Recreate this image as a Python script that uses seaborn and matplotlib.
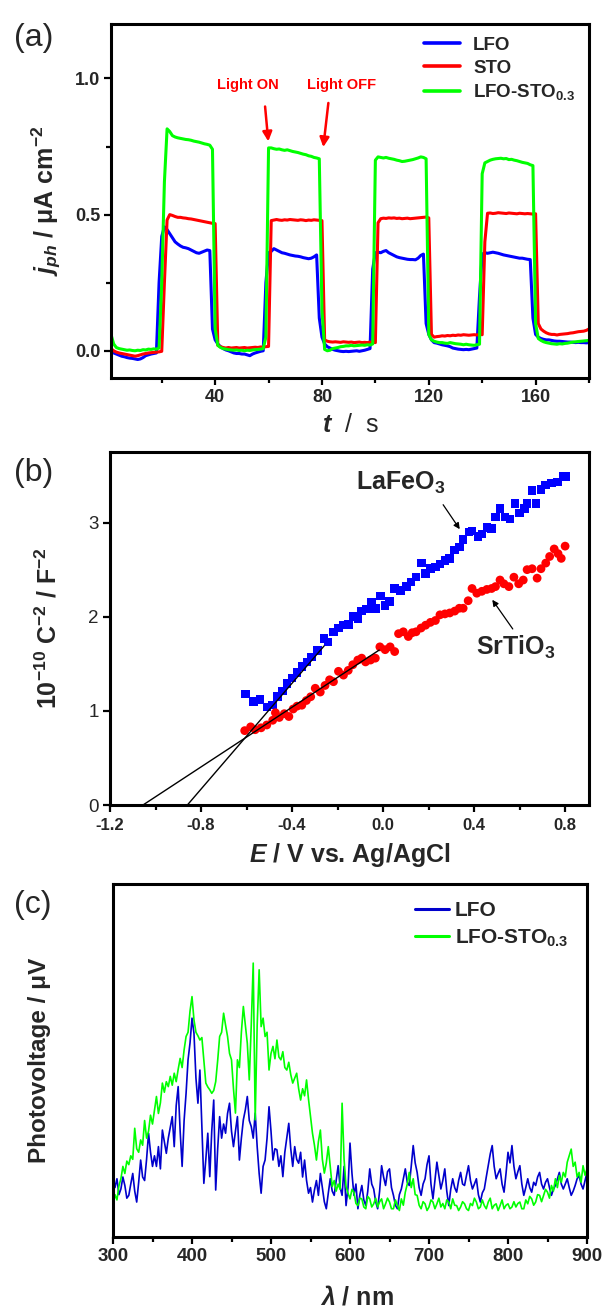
import numpy as np
import pandas as pd
import matplotlib
matplotlib.use("Agg")
import matplotlib.pyplot as plt
import seaborn as sns
from matplotlib.ticker import MultipleLocator, NullLocator

# ---------------- data: panel (a) transient photocurrent ----------------
time_s = np.arange(1, 181)
j_lfo = [
    0.000, -0.008, -0.012, -0.016, -0.020, -0.022, -0.025, -0.027, -0.028, -0.030,
    -0.032, -0.030, -0.025, -0.018, -0.015, -0.012, -0.010, -0.008, 0.250, 0.420,
    0.455, 0.445, 0.430, 0.415, 0.400, 0.392, 0.385, 0.380, 0.378, 0.375,
    0.370, 0.365, 0.360, 0.358, 0.362, 0.366, 0.370, 0.368, 0.080, 0.040,
    0.025, 0.015, 0.008, 0.003, 0.000, -0.004, -0.008, -0.010, -0.010, -0.012,
    -0.012, -0.015, -0.018, -0.012, -0.008, -0.005, -0.002, 0.000, 0.250, 0.360,
    0.365, 0.375, 0.370, 0.365, 0.360, 0.358, 0.355, 0.352, 0.350, 0.348,
    0.347, 0.345, 0.342, 0.340, 0.338, 0.340, 0.345, 0.352, 0.120, 0.050,
    0.025, 0.015, 0.010, 0.005, 0.002, 0.000, -0.002, -0.003, -0.002, -0.003,
    -0.002, -0.001, 0.000, -0.002, 0.000, 0.002, 0.005, 0.008, 0.300, 0.360,
    0.362, 0.360, 0.365, 0.368, 0.360, 0.355, 0.350, 0.345, 0.342, 0.340,
    0.338, 0.336, 0.335, 0.335, 0.334, 0.340, 0.350, 0.355, 0.100, 0.060,
    0.040, 0.030, 0.028, 0.025, 0.022, 0.020, 0.018, 0.015, 0.010, 0.008,
    0.006, 0.005, 0.004, 0.005, 0.004, 0.006, 0.008, 0.010, 0.200, 0.355,
    0.360, 0.358, 0.360, 0.362, 0.360, 0.358, 0.355, 0.352, 0.350, 0.348,
    0.346, 0.344, 0.342, 0.340, 0.340, 0.338, 0.336, 0.335, 0.120, 0.060,
    0.050, 0.045, 0.042, 0.040, 0.040, 0.038, 0.036, 0.035, 0.035, 0.034,
    0.033, 0.032, 0.032, 0.031, 0.030, 0.031, 0.030, 0.030, 0.029, 0.030,
]
j_sto = [
    0.008, 0.000, -0.005, -0.008, -0.010, -0.012, -0.014, -0.016, -0.018, -0.020,
    -0.018, -0.015, -0.012, -0.010, -0.008, -0.007, -0.006, -0.005, -0.004, -0.002,
    0.250, 0.480, 0.500, 0.497, 0.493, 0.490, 0.490, 0.488, 0.487, 0.485,
    0.484, 0.482, 0.480, 0.478, 0.476, 0.474, 0.472, 0.470, 0.468, 0.467,
    0.020, 0.015, 0.012, 0.010, 0.012, 0.010, 0.011, 0.012, 0.010, 0.011,
    0.012, 0.010, 0.011, 0.012, 0.013, 0.012, 0.014, 0.013, 0.015, 0.016,
    0.478, 0.480, 0.482, 0.480, 0.479, 0.481, 0.480, 0.482, 0.481, 0.480,
    0.479, 0.481, 0.480, 0.478, 0.480, 0.479, 0.481, 0.480, 0.479, 0.478,
    0.040, 0.035, 0.033, 0.032, 0.033, 0.032, 0.031, 0.033, 0.032, 0.031,
    0.032, 0.030, 0.031, 0.032, 0.030, 0.031, 0.030, 0.032, 0.031, 0.030,
    0.470, 0.485, 0.487, 0.486, 0.488, 0.487, 0.488, 0.486, 0.487, 0.485,
    0.486, 0.487, 0.485, 0.486, 0.487, 0.488, 0.489, 0.490, 0.491, 0.488,
    0.060, 0.050, 0.052, 0.053, 0.055, 0.054, 0.056, 0.055, 0.057, 0.056,
    0.058, 0.057, 0.059, 0.058, 0.057, 0.058, 0.059, 0.058, 0.060, 0.059,
    0.400, 0.505, 0.506, 0.504, 0.505, 0.507, 0.506, 0.505, 0.504, 0.506,
    0.505, 0.504, 0.503, 0.505, 0.504, 0.503, 0.504, 0.503, 0.502, 0.503,
    0.100, 0.080, 0.072, 0.066, 0.062, 0.060, 0.060, 0.058, 0.060, 0.061,
    0.062, 0.063, 0.065, 0.066, 0.068, 0.070, 0.071, 0.072, 0.075, 0.080,
]
j_lfo_sto = [
    0.060, 0.025, 0.012, 0.008, 0.006, 0.004, 0.002, 0.003, 0.001, 0.000,
    0.002, 0.001, 0.004, 0.003, 0.006, 0.005, 0.007, 0.006, 0.010, 0.250,
    0.620, 0.815, 0.805, 0.790, 0.785, 0.782, 0.780, 0.778, 0.776, 0.775,
    0.773, 0.770, 0.768, 0.766, 0.763, 0.760, 0.758, 0.755, 0.740, 0.080,
    0.020, 0.012, 0.008, 0.006, 0.004, 0.003, 0.002, 0.003, 0.001, 0.002,
    0.000, 0.002, 0.001, 0.003, 0.004, 0.005, 0.006, 0.008, 0.050, 0.745,
    0.745, 0.742, 0.740, 0.741, 0.738, 0.736, 0.738, 0.735, 0.732, 0.730,
    0.728, 0.725, 0.722, 0.720, 0.716, 0.714, 0.710, 0.708, 0.705, 0.150,
    0.005, 0.000, 0.002, 0.008, 0.010, 0.012, 0.015, 0.016, 0.018, 0.018,
    0.020, 0.018, 0.019, 0.020, 0.021, 0.020, 0.022, 0.021, 0.025, 0.700,
    0.712, 0.710, 0.708, 0.710, 0.707, 0.705, 0.703, 0.700, 0.698, 0.695,
    0.696, 0.698, 0.700, 0.702, 0.705, 0.708, 0.712, 0.710, 0.705, 0.060,
    0.040, 0.035, 0.032, 0.030, 0.030, 0.028, 0.027, 0.030, 0.028, 0.026,
    0.025, 0.024, 0.022, 0.024, 0.022, 0.021, 0.020, 0.022, 0.024, 0.650,
    0.690, 0.695, 0.700, 0.703, 0.705, 0.706, 0.707, 0.705, 0.706, 0.702,
    0.703, 0.700, 0.698, 0.695, 0.692, 0.690, 0.688, 0.683, 0.680, 0.100,
    0.045, 0.038, 0.033, 0.030, 0.028, 0.026, 0.025, 0.024, 0.026, 0.025,
    0.027, 0.028, 0.030, 0.032, 0.033, 0.034, 0.035, 0.036, 0.037, 0.038,
]
labels_a = ["LFO", "STO", "LFO-STO$_{0.3}$"]
colors_a = ["#0000FF", "#FF0000", "#00FF00"]

# ---------------- data: panel (b) Mott-Schottky ----------------
lfo_E = [-0.604, -0.570, -0.541, -0.511, -0.485, -0.463, -0.443, -0.422, -0.400, -0.378,
         -0.357, -0.335, -0.315, -0.289, -0.259, -0.242, -0.218, -0.196, -0.174, -0.153,
         -0.133, -0.111, -0.094, -0.073, -0.051, -0.034, -0.012, 0.009, 0.029, 0.051,
         0.077, 0.102, 0.123, 0.145, 0.170, 0.187, 0.208, 0.230, 0.250, 0.272,
         0.293, 0.315, 0.335, 0.352, 0.378, 0.391, 0.417, 0.434, 0.456, 0.477,
         0.494, 0.514, 0.536, 0.558, 0.579, 0.599, 0.621, 0.633, 0.655, 0.672,
         0.694, 0.715, 0.740, 0.766, 0.791, 0.803]
lfo_C = [1.18, 1.10, 1.12, 1.04, 1.06, 1.15, 1.21, 1.29, 1.35, 1.41,
         1.47, 1.52, 1.57, 1.64, 1.77, 1.73, 1.84, 1.88, 1.91, 1.92,
         2.00, 1.98, 2.06, 2.08, 2.15, 2.09, 2.22, 2.12, 2.16, 2.30,
         2.28, 2.32, 2.37, 2.42, 2.57, 2.46, 2.51, 2.53, 2.56, 2.60,
         2.62, 2.71, 2.74, 2.82, 2.90, 2.91, 2.85, 2.88, 2.95, 2.94,
         3.06, 3.15, 3.06, 3.04, 3.20, 3.10, 3.15, 3.20, 3.34, 3.20,
         3.35, 3.40, 3.42, 3.43, 3.49, 3.49]
sto_E = [-0.608, -0.582, -0.562, -0.536, -0.511, -0.485, -0.473, -0.456, -0.434, -0.414,
         -0.395, -0.378, -0.357, -0.337, -0.318, -0.298, -0.276, -0.255, -0.235, -0.218,
         -0.196, -0.174, -0.153, -0.133, -0.111, -0.094, -0.077, -0.055, -0.034, -0.014,
         0.009, 0.031, 0.051, 0.068, 0.089, 0.111, 0.128, 0.145, 0.167, 0.187,
         0.208, 0.230, 0.250, 0.272, 0.293, 0.315, 0.335, 0.352, 0.374, 0.391,
         0.412, 0.434, 0.456, 0.477, 0.494, 0.514, 0.531, 0.553, 0.575, 0.596,
         0.616, 0.633, 0.655, 0.677, 0.694, 0.715, 0.732, 0.752, 0.769, 0.783,
         0.800]
sto_C = [0.79, 0.83, 0.80, 0.82, 0.85, 0.90, 0.98, 0.93, 0.97, 0.94,
         1.02, 1.05, 1.06, 1.11, 1.15, 1.24, 1.20, 1.27, 1.33, 1.31,
         1.42, 1.38, 1.43, 1.49, 1.54, 1.56, 1.52, 1.54, 1.56, 1.68,
         1.65, 1.68, 1.63, 1.82, 1.84, 1.79, 1.83, 1.84, 1.88, 1.91,
         1.94, 1.96, 2.02, 2.03, 2.04, 2.06, 2.09, 2.09, 2.17, 2.30,
         2.25, 2.27, 2.29, 2.30, 2.32, 2.39, 2.35, 2.32, 2.42, 2.35,
         2.39, 2.50, 2.51, 2.41, 2.51, 2.57, 2.64, 2.72, 2.67, 2.62,
         2.75]
fit_lfo_E = [-0.860, -0.259]
fit_lfo_C = [0.0, 1.69]
fit_sto_E = [-1.055, -0.017]
fit_sto_C = [0.0, 1.646]

# ---------------- data: panel (c) surface photovoltage (arb. units) ----------------
wavelength = np.arange(300, 900.1, 2.5)
spv_lfo = [
    17.4, 14.0, 16.5, 12.0, 13.6, 17.0, 14.6, 11.0, 11.8, 15.0,
    18.0, 13.0, 9.9, 15.5, 21.8, 17.0, 16.0, 22.0, 29.4, 24.0,
    20.0, 23.0, 20.0, 25.6, 19.3, 30.3, 27.0, 23.7, 28.0, 31.0,
    34.1, 25.6, 37.2, 42.6, 30.0, 20.0, 33.0, 40.7, 50.2, 55.0,
    62.0, 57.7, 45.0, 37.9, 47.3, 31.3, 15.2, 22.0, 29.4, 17.1,
    30.0, 38.8, 13.3, 25.0, 34.1, 28.0, 32.0, 29.4, 35.0, 37.9,
    30.0, 25.6, 30.0, 34.1, 21.8, 28.0, 33.2, 36.0, 39.8, 33.0,
    31.3, 28.0, 35.1, 25.6, 18.0, 12.4, 20.0, 21.8, 28.0, 36.9,
    30.0, 21.8, 25.0, 24.7, 20.0, 23.0, 17.1, 24.0, 28.0, 32.2,
    25.0, 20.0, 25.6, 22.0, 20.9, 24.0, 17.0, 21.8, 16.0, 12.4,
    14.0, 9.9, 13.3, 16.0, 11.8, 18.0, 14.0, 10.0, 8.0, 12.4,
    16.5, 13.0, 11.8, 16.0, 20.2, 14.0, 11.8, 20.0, 8.9, 14.0,
    26.6, 18.0, 11.8, 15.0, 8.0, 12.0, 14.6, 10.5, 8.9, 13.0,
    19.3, 15.0, 13.6, 10.0, 8.0, 13.0, 20.2, 17.0, 14.6, 18.5,
    19.3, 14.0, 11.8, 9.0, 8.0, 12.0, 13.6, 16.5, 19.3, 15.5,
    14.6, 20.0, 25.9, 21.0, 18.3, 14.0, 11.8, 15.0, 16.5, 20.5,
    23.0, 15.0, 10.8, 16.0, 21.2, 17.5, 13.6, 16.0, 19.3, 13.0,
    8.9, 13.5, 16.5, 14.0, 12.7, 16.0, 18.3, 15.0, 14.6, 17.5,
    20.2, 16.0, 13.6, 15.0, 16.5, 12.0, 9.9, 12.5, 13.6, 17.0,
    20.2, 23.5, 25.9, 20.0, 16.5, 18.0, 19.3, 15.0, 12.7, 18.0,
    24.0, 21.0, 25.9, 20.0, 16.5, 18.5, 20.2, 15.0, 11.8, 14.0,
    16.5, 14.0, 12.7, 15.5, 14.6, 17.0, 18.3, 15.0, 13.6, 15.5,
    16.5, 14.0, 11.8, 13.5, 14.6, 16.5, 18.3, 15.0, 13.6, 15.0,
    16.5, 14.0, 11.8, 13.0, 14.6, 16.5, 17.4, 15.0, 13.6, 16.0,
    18.3,
]
spv_lfo_sto = [
    9.0, 12.0, 10.5, 14.5, 16.5, 20.0, 18.0, 21.5, 20.5, 23.0,
    22.0, 30.8, 25.0, 24.0, 27.5, 26.0, 33.0, 28.0, 30.0, 34.5,
    32.0, 36.0, 39.8, 35.0, 38.0, 43.6, 41.0, 44.0, 42.6, 45.5,
    43.0, 46.4, 44.0, 47.5, 50.6, 48.0, 53.0, 56.8, 58.0, 64.0,
    68.1, 61.5, 58.0, 57.0, 55.8, 56.5, 50.0, 43.6, 42.5, 41.7,
    40.7, 41.5, 44.0, 50.0, 56.8, 58.0, 63.4, 60.0, 56.8, 52.0,
    50.2, 42.0, 35.1, 50.2, 48.0, 58.0, 65.3, 60.0, 54.9, 44.5,
    60.0, 77.6, 33.2, 60.0, 75.7, 59.6, 62.0, 56.8, 58.0, 47.3,
    52.0, 54.0, 50.5, 55.8, 51.0, 50.2, 52.5, 48.0, 47.3, 49.5,
    46.0, 43.6, 45.0, 46.4, 42.0, 38.8, 42.0, 40.0, 44.5, 39.0,
    34.1, 29.4, 26.0, 21.8, 27.0, 30.3, 22.0, 18.1, 21.0, 25.6,
    20.0, 14.3, 16.0, 13.0, 15.0, 13.5, 37.9, 22.0, 14.3, 12.4,
    10.8, 13.5, 12.7, 9.5, 8.9, 11.0, 10.8, 8.5, 8.0, 11.5,
    10.8, 8.5, 9.4, 11.0, 8.5, 10.0, 10.8, 8.0, 9.4, 11.0,
    9.9, 8.0, 8.0, 10.5, 8.9, 7.5, 10.8, 9.0, 12.7, 15.0,
    18.3, 14.0, 16.5, 12.0, 11.8, 9.0, 8.0, 10.0, 9.4, 7.5,
    8.5, 10.5, 9.9, 8.0, 9.4, 11.0, 8.5, 9.5, 8.0, 10.5,
    9.9, 8.0, 10.8, 9.0, 8.9, 7.5, 8.5, 10.0, 9.4, 8.0,
    7.5, 9.5, 8.9, 11.0, 9.9, 8.0, 8.5, 10.5, 8.9, 8.0,
    9.9, 11.0, 8.0, 9.0, 9.4, 7.5, 8.9, 10.5, 8.0, 9.0,
    9.4, 8.0, 8.5, 10.0, 8.5, 9.5, 9.9, 8.0, 8.0, 10.5,
    9.4, 11.5, 10.8, 9.0, 9.9, 12.0, 11.8, 10.0, 11.8, 13.5,
    12.7, 11.0, 14.6, 13.0, 16.5, 14.0, 17.4, 15.5, 18.3, 17.0,
    21.2, 23.0, 24.9, 20.0, 21.2, 17.0, 18.3, 15.5, 20.2, 17.5,
    19.3,
]
labels_c = ["LFO", "LFO-STO$_{0.3}$"]
colors_c = ["#0000CC", "#00FF00"]

# ---------------- style ----------------
sns.set_style("ticks")
FONT = "Liberation Sans"
plt.rcParams["font.family"] = [FONT, "DejaVu Sans"]
plt.rcParams["mathtext.fontset"] = "custom"
plt.rcParams["mathtext.rm"] = "Liberation Sans:bold"
plt.rcParams["mathtext.bf"] = "Liberation Sans:bold"
plt.rcParams["mathtext.it"] = "Liberation Sans:bold:italic"
plt.rcParams["mathtext.sf"] = "Liberation Sans:bold"

W, H = 608, 1307
fig = plt.figure(figsize=(W / 100, H / 100), dpi=100)


def frac_axes(left, top, right, bottom):
    return fig.add_axes([left / W, 1 - bottom / H, (right - left) / W, (bottom - top) / H])


def style_axes(ax):
    for s in ax.spines.values():
        s.set_linewidth(2.2)
        s.set_color("black")
    ax.tick_params(which="major", direction="out", length=5, width=1.6, color="black")
    ax.tick_params(which="minor", direction="out", length=3.5, width=1.6, color="black")
    ax.tick_params(top=False, right=False, which="both")


# ---------------- panel (a) ----------------
ax1 = frac_axes(111, 24, 589, 378)
for yv, lab, col in zip([j_lfo, j_sto, j_lfo_sto], labels_a, colors_a):
    sns.lineplot(x=time_s, y=yv, ax=ax1, color=col, linewidth=2.2, label=lab,
                 estimator=None, sort=False)
ax1.set_xlim(1, 180)
ax1.set_ylim(-0.1, 1.2)
style_axes(ax1)
ax1.xaxis.set_minor_locator(MultipleLocator(20))
ax1.yaxis.set_minor_locator(MultipleLocator(0.25))
ax1.set_xticks([40, 80, 120, 160])
ax1.set_yticks([0.0, 0.5, 1.0])
ax1.set_yticklabels(["0.0", "0.5", "1.0"])
for lbl in ax1.get_xticklabels() + ax1.get_yticklabels():
    lbl.set_fontweight("bold")
    lbl.set_fontsize(13)
ax1.tick_params(axis="x", pad=3)
ax1.tick_params(axis="y", pad=2.5)
ax1.set_xlabel("$t$  /  s", fontsize=18)
ax1.xaxis.set_label_coords(0.5, -0.133)
ax1.xaxis.label.set_va("center")
ax1.set_ylabel("$j_{ph}$ / μA cm$^{-2}$", fontsize=18, fontweight="bold")
ax1.yaxis.set_label_coords(-0.134, 0.5)
ax1.yaxis.label.set_va("center")
leg = ax1.legend(loc="upper left", bbox_to_anchor=(0.64, 0.985), frameon=False,
                 prop={"family": FONT, "weight": "bold", "size": 13.5},
                 handlelength=1.9, handletextpad=0.7, labelspacing=0.3, borderaxespad=0)
for h in leg.get_lines():
    h.set_linewidth(2.6)
ax1.text(52.3, 0.977, "Light ON", color="red", fontweight="bold", fontsize=10.5,
         ha="center", va="center")
ax1.text(87.2, 0.977, "Light OFF", color="red", fontweight="bold", fontsize=10.5,
         ha="center", va="center")
arrow_kw = dict(arrowstyle="-|>", color="red", lw=1.8, mutation_scale=14, shrinkA=0, shrinkB=0)
ax1.annotate("", xy=(59.9, 0.769), xytext=(58.7, 0.897), arrowprops=arrow_kw)
ax1.annotate("", xy=(80.5, 0.748), xytext=(82.4, 0.910), arrowprops=arrow_kw)

# ---------------- panel (b) ----------------
ax2 = frac_axes(110, 452, 589, 805)
sns.scatterplot(x=lfo_E, y=lfo_C, ax=ax2, marker="s", s=38, color="#0000FF",
                edgecolor="none", zorder=3)
sns.scatterplot(x=sto_E, y=sto_C, ax=ax2, marker="o", s=40, color="#FF0000",
                edgecolor="none", zorder=3)
sns.lineplot(x=fit_lfo_E, y=fit_lfo_C, ax=ax2, color="black", linewidth=1.0, zorder=4)
sns.lineplot(x=fit_sto_E, y=fit_sto_C, ax=ax2, color="black", linewidth=1.0, zorder=4)
ax2.set_xlim(-1.2, 0.905)
ax2.set_ylim(0, 3.75)
style_axes(ax2)
ax2.set_xticks([-1.2, -0.8, -0.4, 0.0, 0.4, 0.8])
ax2.set_xticklabels(["-1.2", "-0.8", "-0.4", "0.0", "0.4", "0.8"])
ax2.xaxis.set_minor_locator(MultipleLocator(0.2))
ax2.set_yticks([0, 1, 2, 3])
ax2.set_yticklabels(["0", "1", "2", "3"])
for lbl in ax2.get_xticklabels():
    lbl.set_fontweight("bold")
    lbl.set_fontsize(12)
for lbl in ax2.get_yticklabels():
    lbl.set_fontsize(13.5)
ax2.tick_params(axis="x", pad=4)
ax2.tick_params(axis="y", pad=3)
ax2.set_xlabel("$E$ / V vs. Ag/AgCl", fontsize=18, fontweight="bold")
ax2.xaxis.set_label_coords(0.5, -0.142)
ax2.xaxis.label.set_va("center")
ax2.set_ylabel("10$^{-10}$ C$^{-2}$ / F$^{-2}$", fontsize=18, fontweight="bold")
ax2.yaxis.set_label_coords(-0.129, 0.5)
ax2.yaxis.label.set_va("center")
ax2.text(-0.12, 3.42, "LaFeO$_3$", fontsize=18, fontweight="bold", ha="left", va="center")
ax2.text(0.408, 1.67, "SrTiO$_3$", fontsize=18, fontweight="bold", ha="left", va="center")
blk = dict(arrowstyle="-|>", color="black", lw=0.9, mutation_scale=9, shrinkA=0, shrinkB=0)
ax2.annotate("", xy=(0.337, 2.93), xytext=(0.264, 3.19), arrowprops=blk)
ax2.annotate("", xy=(0.480, 2.18), xytext=(0.570, 1.87), arrowprops=blk)

# ---------------- panel (c) ----------------
ax3 = frac_axes(113, 884, 587, 1237)
for yv, lab, col in zip([spv_lfo, spv_lfo_sto], labels_c, colors_c):
    sns.lineplot(x=wavelength, y=yv, ax=ax3, color=col, linewidth=1.2, label=lab,
                 estimator=None, sort=False)
ax3.set_xlim(300, 900)
ax3.set_ylim(0, 100)
style_axes(ax3)
ax3.xaxis.set_minor_locator(MultipleLocator(50))
ax3.yaxis.set_major_locator(NullLocator())
ax3.yaxis.set_minor_locator(NullLocator())
ax3.set_xticks([300, 400, 500, 600, 700, 800, 900])
ax3.set_xticklabels(["300", "400", "500", "600", "700", "800", "900"])
for lbl in ax3.get_xticklabels():
    lbl.set_fontweight("bold")
    lbl.set_fontsize(13.5)
ax3.tick_params(axis="x", pad=3)
ax3.set_xlabel("$\\lambda$ / nm", fontsize=18, fontweight="bold")
ax3.xaxis.set_label_coords(0.515, -0.17)
ax3.xaxis.label.set_va("center")
ax3.set_ylabel("Photovoltage / μV", fontsize=17.5, fontweight="bold")
ax3.yaxis.set_label_coords(-0.156, 0.5)
ax3.yaxis.label.set_va("center")
leg3 = ax3.legend(loc="upper left", bbox_to_anchor=(0.62, 0.975), frameon=False,
                  prop={"family": FONT, "weight": "bold", "size": 15},
                  handlelength=1.6, handletextpad=0.3, labelspacing=0.35, borderaxespad=0)
for h in leg3.get_lines():
    h.set_linewidth(2.2)

# ---------------- panel labels ----------------
for txt, (px, py) in zip(["(a)", "(b)", "(c)"], [(34, 38), (34, 473), (33, 905)]):
    fig.text(px / W, 1 - py / H, txt, fontsize=23, ha="center", va="center",
             family=[FONT, "DejaVu Sans"])

fig.savefig("out.png", dpi=100)
